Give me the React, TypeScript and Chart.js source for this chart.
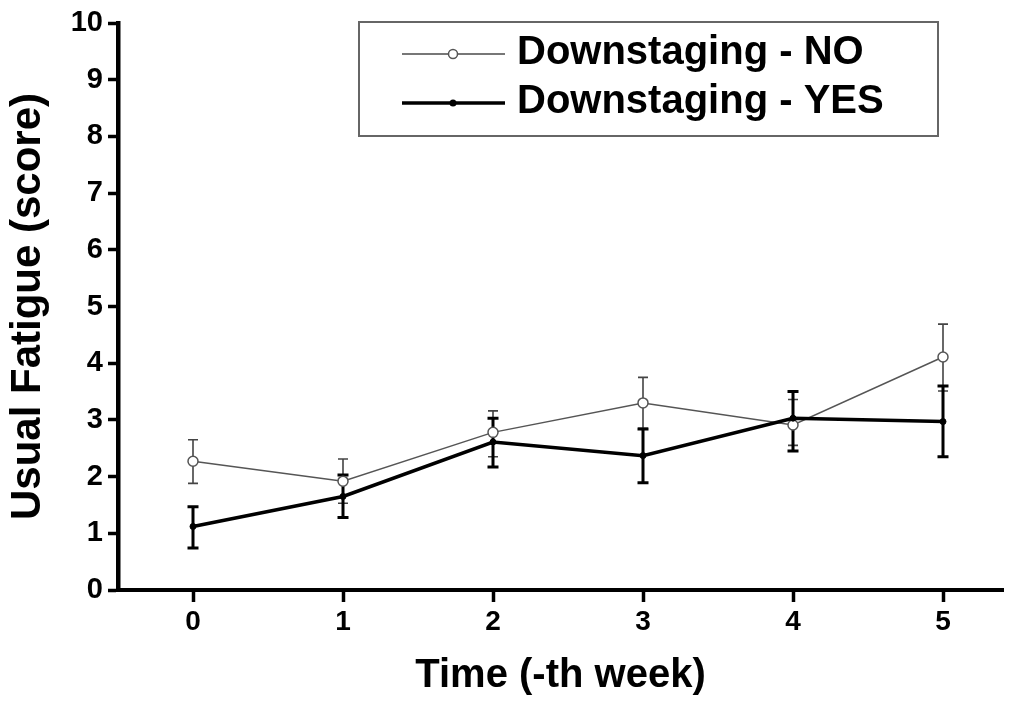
import React, { useEffect, useRef } from "react";
import { Chart, registerables } from "chart.js";

Chart.register(...registerables);

const xWeeks = [0, 1, 2, 3, 4, 5];
const xTickValues = [0, 1, 2, 3, 4, 5];
const yTickValues = [0, 1, 2, 3, 4, 5, 6, 7, 8, 9, 10];

const noMean = [2.27, 1.92, 2.78, 3.3, 2.91, 4.11];
const noLow = [1.88, 1.53, 2.35, 2.85, 2.55, 3.51];
const noHigh = [2.65, 2.31, 3.16, 3.75, 3.36, 4.69];

const yesMean = [1.12, 1.65, 2.61, 2.37, 3.03, 2.97];
const yesLow = [0.74, 1.28, 2.17, 1.89, 2.45, 2.35];
const yesHigh = [1.47, 2.03, 3.03, 2.84, 3.5, 3.6];

const labelNo = "Downstaging - NO";
const labelYes = "Downstaging - YES";
const xTitle = "Time (-th week)";
const yTitle = "Usual Fatigue (score)";

const FONT = "'Liberation Sans', Arial, sans-serif";

type ErrStyle = { color: string; width: number; cap: number };

const errorBars = [
  { low: noLow, high: noHigh, style: { color: "#444", width: 1.6, cap: 5 } as ErrStyle },
  { low: yesLow, high: yesHigh, style: { color: "#000", width: 3, cap: 5.5 } as ErrStyle },
];

const errorBarPlugin = {
  id: "errorBars",
  beforeDatasetsDraw(chart: any) {
    const ctx = chart.ctx;
    const xs = chart.scales.x;
    const ys = chart.scales.y;
    ctx.save();
    errorBars.forEach((eb) => {
      ctx.strokeStyle = eb.style.color;
      ctx.lineWidth = eb.style.width;
      xWeeks.forEach((xv, i) => {
        const px = xs.getPixelForValue(xv);
        const pl = ys.getPixelForValue(eb.low[i]);
        const ph = ys.getPixelForValue(eb.high[i]);
        ctx.beginPath();
        ctx.moveTo(px, pl);
        ctx.lineTo(px, ph);
        ctx.moveTo(px - eb.style.cap, pl);
        ctx.lineTo(px + eb.style.cap, pl);
        ctx.moveTo(px - eb.style.cap, ph);
        ctx.lineTo(px + eb.style.cap, ph);
        ctx.stroke();
      });
    });
    ctx.restore();
  },
};

const legendPlugin = {
  id: "customLegend",
  afterDraw(chart: any) {
    const ctx = chart.ctx;
    ctx.save();
    const bx = 359, by = 22, bw = 579, bh = 114;
    ctx.fillStyle = "#fff";
    ctx.fillRect(bx, by, bw, bh);
    ctx.strokeStyle = "#666";
    ctx.lineWidth = 2;
    ctx.strokeRect(bx, by, bw, bh);
    const entries = [
      { label: labelNo, y: 54, color: "#777", lw: 2, open: true },
      { label: labelYes, y: 103, color: "#000", lw: 3.5, open: false },
    ];
    entries.forEach((e) => {
      ctx.strokeStyle = e.color;
      ctx.lineWidth = e.lw;
      ctx.beginPath();
      ctx.moveTo(402, e.y);
      ctx.lineTo(505, e.y);
      ctx.stroke();
      ctx.beginPath();
      if (e.open) {
        ctx.arc(453, e.y, 4.5, 0, Math.PI * 2);
        ctx.fillStyle = "#fff";
        ctx.fill();
        ctx.lineWidth = 1.5;
        ctx.strokeStyle = "#555";
        ctx.stroke();
      } else {
        ctx.arc(453, e.y, 3.5, 0, Math.PI * 2);
        ctx.fillStyle = "#000";
        ctx.fill();
      }
      ctx.fillStyle = "#000";
      ctx.font = `bold 40px ${FONT}`;
      ctx.textBaseline = "middle";
      ctx.textAlign = "left";
      ctx.fillText(e.label, 517, e.y - 1);
    });
    ctx.restore();
  },
};

export default function App() {
  const ref = useRef<HTMLCanvasElement | null>(null);

  useEffect(() => {
    if (!ref.current) return;
    const chart = new Chart(ref.current, {
      type: "line",
      data: {
        datasets: [
          {
            label: labelYes,
            data: xWeeks.map((x, i) => ({ x, y: yesMean[i] })),
            borderColor: "#000",
            borderWidth: 3.5,
            pointRadius: 3,
            pointBackgroundColor: "#000",
            pointBorderColor: "#000",
            pointBorderWidth: 1,
            tension: 0,
          },
          {
            label: labelNo,
            data: xWeeks.map((x, i) => ({ x, y: noMean[i] })),
            borderColor: "#555",
            borderWidth: 1.5,
            pointRadius: 5,
            pointBackgroundColor: "#fff",
            pointBorderColor: "#555",
            pointBorderWidth: 1.5,
            tension: 0,
          },
        ],
      },
      options: {
        animation: false,
        responsive: false,
        maintainAspectRatio: false,
        layout: { padding: { top: 23, right: 8, left: 0, bottom: 0 } },
        plugins: {
          legend: { display: false },
          tooltip: { enabled: false },
        },
        scales: {
          x: {
            type: "linear",
            min: -0.5,
            max: 5.4,
            afterBuildTicks: (scale: any) => {
              scale.ticks = xTickValues.map((v) => ({ value: v }));
            },
            afterFit: (scale: any) => {
              scale.height = 119;
            },
            border: { display: true, color: "#000", width: 4 },
            grid: {
              display: true,
              drawOnChartArea: false,
              drawTicks: true,
              tickLength: 12,
              tickWidth: 3.5,
              tickColor: "#000",
            },
            ticks: {
              color: "#000",
              font: { family: FONT, size: 28, weight: "bold" },
              padding: 3,
              maxRotation: 0,
              autoSkip: false,
            },
            title: {
              display: true,
              text: xTitle,
              color: "#000",
              font: { family: FONT, size: 40, weight: "bold" },
              padding: { top: 0, bottom: 9 },
            },
          },
          y: {
            type: "linear",
            min: 0,
            max: 10,
            afterBuildTicks: (scale: any) => {
              scale.ticks = yTickValues.map((v) => ({ value: v }));
            },
            afterFit: (scale: any) => {
              scale.width = 118;
            },
            border: { display: true, color: "#000", width: 4.5 },
            grid: {
              display: true,
              drawOnChartArea: false,
              drawTicks: true,
              tickLength: 10,
              tickWidth: 3.5,
              tickColor: "#000",
            },
            ticks: {
              color: "#000",
              font: { family: FONT, size: 29, weight: "bold" },
              padding: 5,
              autoSkip: false,
            },
            title: {
              display: true,
              text: yTitle,
              color: "#000",
              font: { family: FONT, size: 42, weight: "bold" },
              padding: { top: 3, bottom: 0 },
            },
          },
        },
      },
      plugins: [errorBarPlugin, legendPlugin],
    } as any);
    return () => chart.destroy();
  }, []);

  return (
    <div style={{ position: "absolute", left: 0, top: 0, width: 1011, height: 709, background: "#fff" }}>
      <canvas ref={ref} width={1011} height={709} style={{ display: "block", width: 1011, height: 709 }} />
    </div>
  );
}
